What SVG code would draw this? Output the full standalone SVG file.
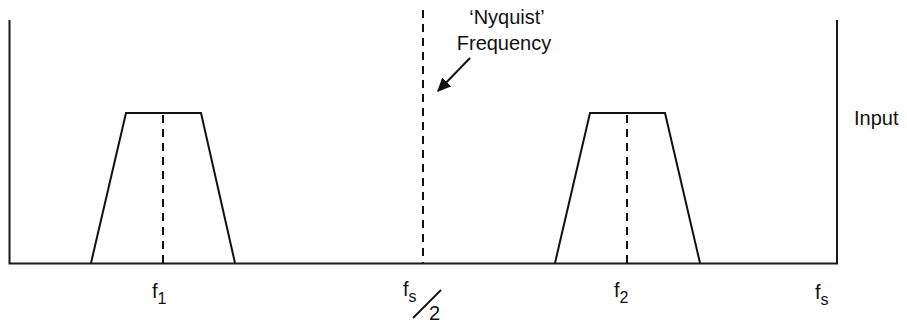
<svg xmlns="http://www.w3.org/2000/svg" width="907" height="324" viewBox="0 0 907 324">
<defs>
<style>
.ax{fill:none;stroke:#1a1a1a;stroke-width:2}
.tr{fill:none;stroke:#111;stroke-width:2;stroke-linejoin:miter}
.ds{fill:none;stroke:#111;stroke-width:2;stroke-dasharray:8,6}
.t{font-family:"Liberation Sans",Arial,sans-serif;font-size:20px;fill:#111}
.sub{font-size:16px}
</style>
<marker id="ah" viewBox="0 0 10 10" refX="9" refY="5" markerWidth="7" markerHeight="7" orient="auto" markerUnits="strokeWidth">
<path d="M0,0.5 L10,5 L0,9.5 z" fill="#111"/>
</marker>
</defs>
<g id="axes">
<path class="ax" d="M9.5,20 V263.5 H837 V20"/>
</g>
<g id="band1">
<path class="tr" d="M91,263 L126,113 L201,113 L235,263"/>
<line class="ds" x1="163" y1="115" x2="163" y2="263"/>
</g>
<g id="band2">
<path class="tr" d="M555,263 L590,113 L665,113 L700,263"/>
<line class="ds" x1="627" y1="115" x2="627" y2="263"/>
</g>
<g id="nyquist">
<line class="ds" x1="423" y1="10" x2="423" y2="263"/>
<text class="t" x="507" y="24" text-anchor="middle">‘Nyquist’</text>
<text class="t" x="504" y="50" text-anchor="middle">Frequency</text>
</g>
<g id="connectors">
<line x1="470" y1="58" x2="438" y2="91" stroke="#111" stroke-width="2" marker-end="url(#ah)"/>
</g>
<g id="labels">
<text class="t" x="854" y="125">Input</text>
<text class="t" x="152" y="298">f<tspan class="sub" dy="6">1</tspan></text>
<text class="t" x="614" y="297">f<tspan class="sub" dy="6">2</tspan></text>
<text class="t" x="815" y="299">f<tspan class="sub" dy="6">s</tspan></text>
<text class="t" x="403" y="296">f<tspan class="sub" dy="6">s</tspan></text>
<line x1="413" y1="318" x2="441" y2="290" stroke="#111" stroke-width="1.8"/>
<text class="t" x="429" y="320">2</text>
</g>
</svg>
